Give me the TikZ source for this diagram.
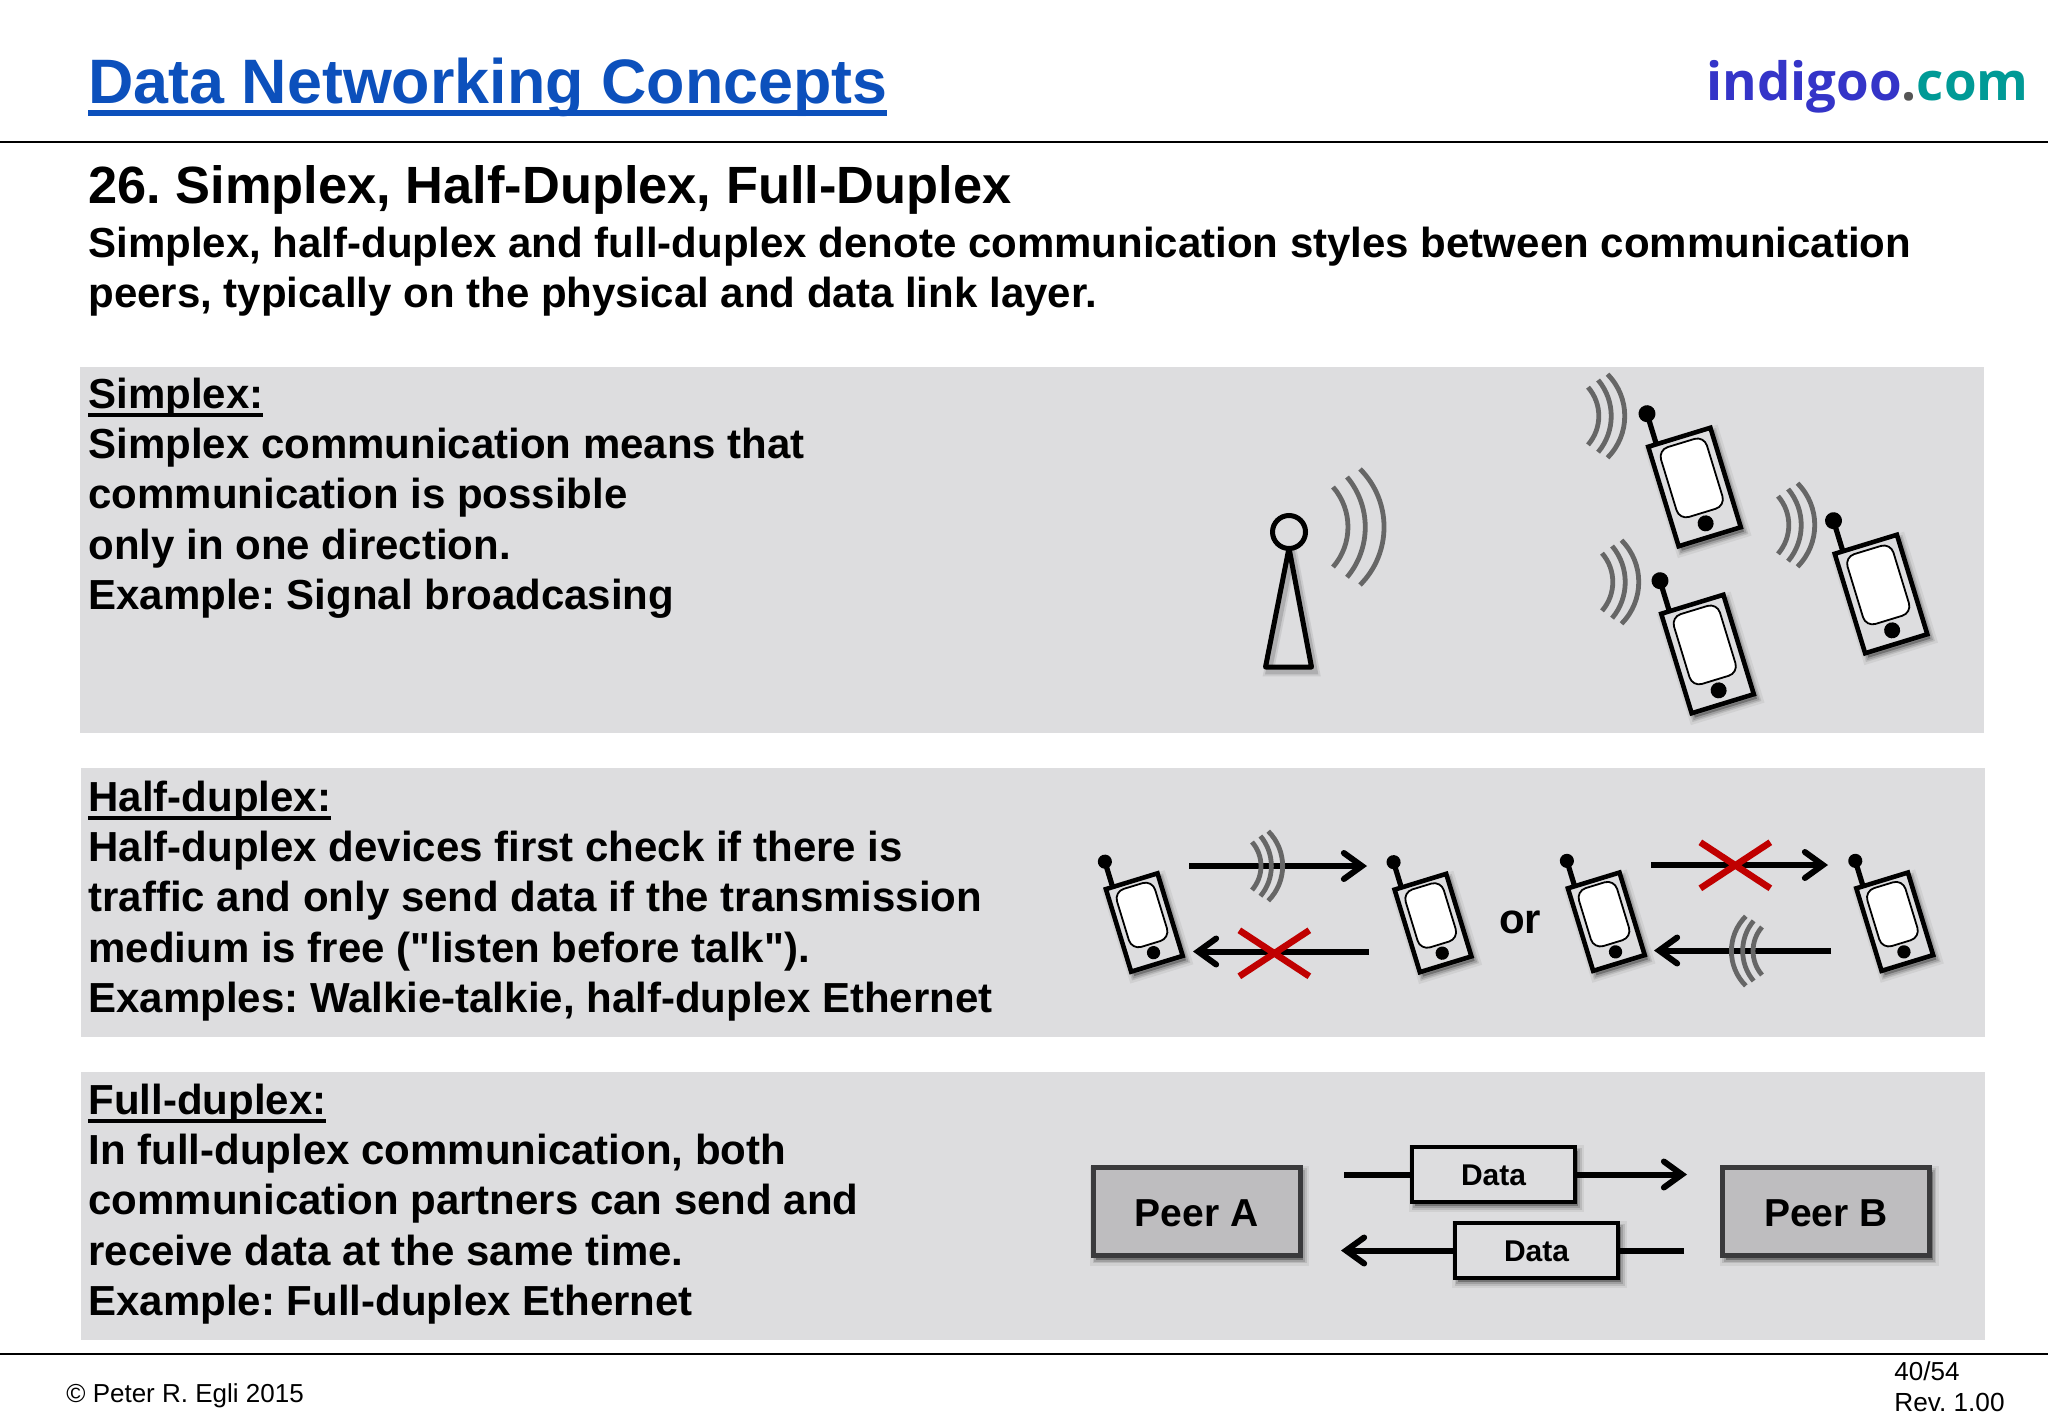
\documentclass[tikz,border=0pt]{standalone}
\usepackage{fontspec}
\setmainfont{Liberation Sans}
\newfontfamily\brandfont{Open Sans}
\newfontfamily\plainfont{Liberation Sans}
\usepackage{tikz}
\usepackage{xcolor}
\usetikzlibrary{arrows.meta}
\frenchspacing
\definecolor{titleblue}{HTML}{0C50BC}
\definecolor{indigoblue}{HTML}{3434C8}
\definecolor{indigodot}{HTML}{555555}
\definecolor{indigoteal}{HTML}{009A96}
\definecolor{panelgray}{HTML}{DDDDDF}
\definecolor{peerfill}{HTML}{BEBDBF}
\definecolor{peerline}{HTML}{3A3A3C}
\definecolor{wavegray}{HTML}{666666}
\definecolor{crossred}{HTML}{C00000}
\tikzstyle{softshadow} = [
    preaction={draw=black,fill=black,opacity=.06,line width=6pt,transform canvas={shift={(1.6pt,-2.2pt)}}},
    preaction={draw=black,fill=black,opacity=.10,line width=3.5pt,transform canvas={shift={(1.6pt,-2.2pt)}}},
    preaction={draw=black,fill=black,opacity=.14,line width=2pt,transform canvas={shift={(1.6pt,-2.2pt)}}}
    ]
\tikzstyle{lineshadow} = [
    preaction={draw=black,opacity=.08,line width=5pt,transform canvas={shift={(1.6pt,-2.2pt)}}},
    preaction={draw=black,opacity=.14,line width=3pt,transform canvas={shift={(1.6pt,-2.2pt)}}}
    ]
\tikzstyle{panel} = [
    fill=panelgray,
    rectangle,
    anchor=north west,
    inner sep=0pt,
    minimum width=952pt
    ]
\tikzstyle{bodytext} = [
    anchor=base west,
    inner sep=0pt,
    align=left,
    font=\fontsize{21}{25.15}\selectfont\bfseries
    ]
\tikzstyle{peerbox} = [
    draw=peerline,
    fill=peerfill,
    line width=2.5pt,
    softshadow,
    minimum width=103.5pt,
    minimum height=44pt,
    inner sep=0pt,
    text height=14.5pt,
    text depth=0pt,
    font=\fontsize{19.5}{23}\selectfont\bfseries
    ]
\tikzstyle{databox} = [
    draw=black,
    fill=panelgray,
    line width=2pt,
    softshadow,
    minimum width=81.5pt,
    minimum height=27.5pt,
    inner sep=0pt,
    text height=11pt,
    text depth=0pt,
    font=\fontsize{15}{18}\selectfont\bfseries
    ]
\tikzstyle{flowline} = [
    line width=3pt
    ]
\tikzstyle{flowarrow} = [
    line width=3pt,
    -{Straight Barb[length=9pt,width=13pt,line cap=round]}
    ]
\newcommand{\ulined}[3]{% text, rule drop, rule height
\setbox0\hbox{#1}\rlap{\raisebox{-#2}{\rule{\wd0}{#3}}}\box0}
\newcommand{\waves}[4]{% x, y, scale, rotation
\begin{scope}[shift={(#1,#2)},scale=#3,rotate=#4,draw=wavegray,line width=2.4pt]
    \draw (0,-40) arc[start angle=-41,end angle=41,radius=61];
    \draw (14,-50) arc[start angle=-40,end angle=40,radius=78];
    \draw (27,-58) arc[start angle=-45,end angle=45,radius=82];
\end{scope}}
\newcommand{\handset}[3]{% x, y, scale
\begin{scope}[shift={(#1,#2)},scale=#3,rotate=17]
    \draw[line width=2.6pt] (-24,-52) -- (-24,-84);
    \fill (-24,-84) circle (8.5);
    \draw[fill=panelgray,line width=2.3pt,miter limit=2,softshadow] (-32.5,-52) rectangle (32.5,52);
    \draw[fill=white,line width=.9pt,rounded corners=5pt] (-24,-46) rectangle (24,27);
    \fill (0,38) circle (8);
\end{scope}}
\newcommand{\crossout}[2]{% x, y
\draw[crossred,line width=3.3pt] (#1-35,#2-23) -- (#1+35,#2+23) (#1-35,#2+23) -- (#1+35,#2-23);}

\begin{document}
\begin{tikzpicture}[x=.5pt,y=-.5pt]
\useasboundingbox (0,0) rectangle (2048,1418);
\fill[white] (0,0) rectangle (2048,1418);

% header
\node[anchor=base west,inner sep=0pt,text=titleblue,font=\fontsize{31.4}{36}\selectfont\bfseries] (title) at (88,103.5) {\ulined{Data Networking Concepts}{6.4pt}{3pt}};
\node[anchor=base east,inner sep=0pt,font=\brandfont\fontsize{26.4}{32}\selectfont\bfseries] (brand) at (2029,101) {\textcolor{indigoblue}{indigoo}\textcolor{indigodot}{.}\textcolor{indigoteal}{com}};
\draw[line width=1pt] (0,141.5) -- (2048,141.5);
\node[anchor=base west,inner sep=0pt,font=\fontsize{26.2}{30}\selectfont\bfseries] (heading) at (88,203) {26. Simplex, Half-Duplex, Full-Duplex};
\node[bodytext] (intro) at (88,307.5) {Simplex, half-duplex and full-duplex denote communication styles between communication\\peers, typically on the physical and data link layer.};

% panels
\node[panel,minimum height=183pt] (simplexpanel) at (80,367) {};
\node[panel,minimum height=134.5pt] (halfpanel) at (81,768) {};
\node[panel,minimum height=134pt] (fullpanel) at (81,1072) {};

\node[bodytext] (simplextext) at (88,609.5) {\ulined{Simplex:}{4.2pt}{1.9pt}\\Simplex communication means that\\communication is possible\\only in one direction.\\Example: Signal broadcasing};
\node[bodytext] (halftext) at (88,1012.5) {\ulined{Half-duplex:}{4.2pt}{1.9pt}\\Half-duplex devices first check if there is\\traffic and only send data if the transmission\\medium is free ({\plainfont"}listen before talk{\plainfont"}).\\Examples: Walkie-talkie, half-duplex Ethernet};
\node[bodytext] (fulltext) at (88,1315.5) {\ulined{Full-duplex:}{4.2pt}{1.9pt}\\In full-duplex communication, both\\communication partners can send and\\receive data at the same time.\\Example: Full-duplex Ethernet};

% simplex
\draw[line width=2.5pt,line join=round,lineshadow] (1289,548) -- (1265.5,667) -- (1311.5,667) -- cycle;
\draw[line width=2.5pt,fill=panelgray] (1289,532) circle (16.5);
\waves{1333}{527}{1}{0}
\waves{1588}{416}{.72}{0}
\waves{1602}{582}{.72}{0}
\waves{1778}{525}{.72}{0}
\handset{1694.5}{487}{1}
\handset{1707.5}{654}{1}
\handset{1881}{594}{1}

% half-duplex
\handset{1144.3}{922.5}{.83}
\handset{1433}{923}{.83}
\handset{1606.3}{921.7}{.83}
\handset{1894.7}{921.7}{.83}
\coordinate (senda) at (1189,866);
\coordinate (recva) at (1367,866);
\coordinate (sendb) at (1369,951.5);
\coordinate (recvb) at (1193,951.5);
\coordinate (sendc) at (1651,865);
\coordinate (recvc) at (1828,865);
\coordinate (sendd) at (1831,950.5);
\coordinate (recvd) at (1654,950.5);
\draw[flowarrow] (senda) -- (recva);
\draw[flowarrow] (sendb) -- (recvb);
\draw[flowarrow] (sendc) -- (recvc);
\draw[flowarrow] (sendd) -- (recvd);
\waves{1252}{866}{.6}{0}
\waves{1762}{951}{.6}{180}
\crossout{1274.3}{953.3}
\crossout{1735.3}{865.3}
\node[inner sep=0pt,font=\fontsize{21}{25}\selectfont\bfseries] (ortext) at (1520,922) {or};

% full-duplex
\node[peerbox] (peera) at (1196.5,1211.5) {Peer A};
\node[peerbox] (peerb) at (1826,1211.5) {Peer B};
\node[databox] (dataout) at (1493.5,1174.5) {Data};
\node[databox] (databack) at (1536.5,1250.5) {Data};
\coordinate (outstart) at (1344,1174.5);
\coordinate (outend) at (1687,1174.5);
\coordinate (backstart) at (1684,1250.5);
\coordinate (backend) at (1341,1250.5);
\draw[flowline] (outstart) -- (dataout);
\draw[flowarrow] (dataout) -- (outend);
\draw[flowline] (backstart) -- (databack);
\draw[flowarrow] (databack) -- (backend);

% footer
\draw[line width=1pt] (0,1354) -- (2048,1354);
\node[anchor=base west,inner sep=0pt,font=\fontsize{13}{16}\selectfont] (copyright) at (66,1402.5) {© Peter R. Egli 2015};
\node[anchor=base west,inner sep=0pt,font=\fontsize{13}{16}\selectfont] (pageno) at (1894,1380) {40/54};
\node[anchor=base west,inner sep=0pt,font=\fontsize{13.1}{16}\selectfont] (revision) at (1894,1411) {Rev. 1.00};
\end{tikzpicture}
\end{document}
